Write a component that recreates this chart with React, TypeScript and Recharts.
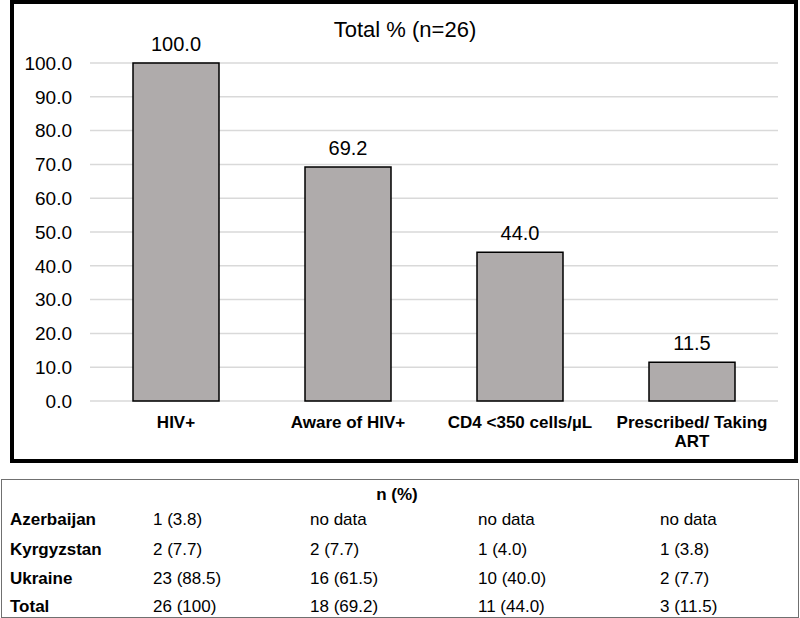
import { BarChart, Bar, XAxis, YAxis, CartesianGrid, LabelList } from "recharts";

const CATEGORIES = ["HIV+", "Aware of HIV+", "CD4 <350 cells/µL", "Prescribed/ Taking ART"];
const TOTAL_PCT = [100.0, 69.2, 44.0, 11.5];
const Y_TICKS = [0, 10, 20, 30, 40, 50, 60, 70, 80, 90, 100];

const TABLE_HEADER = "n (%)";
const COUNTRIES = ["Azerbaijan", "Kyrgyzstan", "Ukraine", "Total"];
const HIV_POS = ["1 (3.8)", "2 (7.7)", "23 (88.5)", "26 (100)"];
const AWARE = ["no data", "2 (7.7)", "16 (61.5)", "18 (69.2)"];
const CD4_LOW = ["no data", "1 (4.0)", "10 (40.0)", "11 (44.0)"];
const ON_ART = ["no data", "1 (3.8)", "2 (7.7)", "3 (11.5)"];

const FONT = "'Liberation Sans', Arial, sans-serif";
const BAR_FILL = "#afabab";

const chartData = CATEGORIES.map((name, i) => ({ name, value: TOTAL_PCT[i] }));
const tableCols = [HIV_POS, AWARE, CD4_LOW, ON_ART];
const COL_X = [153, 310, 478, 660];
const ROW_Y = [520, 550, 579, 607];

// split long labels in two lines at the last space
const CategoryTick = ({ x, y, payload }: any) => {
  const label: string = payload.value;
  let lines = [label];
  if (label.length > 20) {
    const cut = label.lastIndexOf(" ");
    lines = [label.slice(0, cut), label.slice(cut + 1)];
  }
  return (
    <text x={x} y={y} textAnchor="middle" fontFamily={FONT} fontSize={17} fontWeight="bold" fill="#000">
      {lines.map((l, i) => (
        <tspan key={i} x={x} dy={i === 0 ? 27 : 19}>
          {l}
        </tspan>
      ))}
    </text>
  );
};

export default function App() {
  return (
    <div style={{ position: "absolute", left: 0, top: 0, width: 800, height: 618, background: "#fff", fontFamily: FONT }}>
      <div
        style={{
          position: "absolute",
          left: 10,
          top: 0,
          width: 788,
          height: 463,
          border: "4px solid #000",
          boxSizing: "border-box",
        }}
      />
      <div
        style={{
          position: "absolute",
          left: 305,
          width: 200,
          top: 17,
          textAlign: "center",
          fontSize: 22,
          lineHeight: "26px",
          color: "#000",
        }}
      >
        Total % (n=26)
      </div>
      <div style={{ position: "absolute", left: 0, top: 0 }}>
        <BarChart width={800} height={470} data={chartData} margin={{ top: 63, right: 22, left: 30, bottom: 9 }}>
          <CartesianGrid vertical={false} stroke="#d9d9d9" strokeWidth={1.5} />
          <XAxis
            dataKey="name"
            height={60}
            axisLine={false}
            tickLine={false}
            tickSize={0}
            tickMargin={0}
            interval={0}
            tick={<CategoryTick />}
          />
          <YAxis
            width={60}
            domain={[0, 100]}
            ticks={Y_TICKS}
            axisLine={false}
            tickLine={false}
            tickSize={0}
            tickMargin={18}
            tickFormatter={(v: number) => v.toFixed(1)}
            tick={{ fill: "#000", fontSize: 19, fontFamily: FONT }}
          />
          <Bar dataKey="value" barSize={86} fill={BAR_FILL} stroke="#000" strokeWidth={1.5} isAnimationActive={false}>
            <LabelList
              dataKey="value"
              position="top"
              offset={12}
              formatter={(v: any) => Number(v).toFixed(1)}
              style={{ fill: "#000", fontSize: 20, fontFamily: FONT }}
            />
          </Bar>
        </BarChart>
      </div>
      <div
        style={{
          position: "absolute",
          left: 1,
          top: 479,
          width: 798,
          height: 139,
          border: "1.5px solid #707070",
          boxSizing: "border-box",
        }}
      />
      <div
        style={{
          position: "absolute",
          left: 297,
          width: 200,
          top: 495 - 10,
          lineHeight: "20px",
          textAlign: "center",
          fontSize: 17,
          fontWeight: "bold",
        }}
      >
        {TABLE_HEADER}
      </div>
      {COUNTRIES.map((c, r) => (
        <div key={c}>
          <div
            style={{
              position: "absolute",
              left: 10,
              top: ROW_Y[r] - 10,
              lineHeight: "20px",
              fontSize: 17,
              fontWeight: "bold",
              whiteSpace: "nowrap",
            }}
          >
            {c}
          </div>
          {tableCols.map((col, k) => (
            <div
              key={k}
              style={{
                position: "absolute",
                left: COL_X[k],
                top: ROW_Y[r] - 10,
                lineHeight: "20px",
                fontSize: 17,
                whiteSpace: "nowrap",
              }}
            >
              {col[r]}
            </div>
          ))}
        </div>
      ))}
    </div>
  );
}
